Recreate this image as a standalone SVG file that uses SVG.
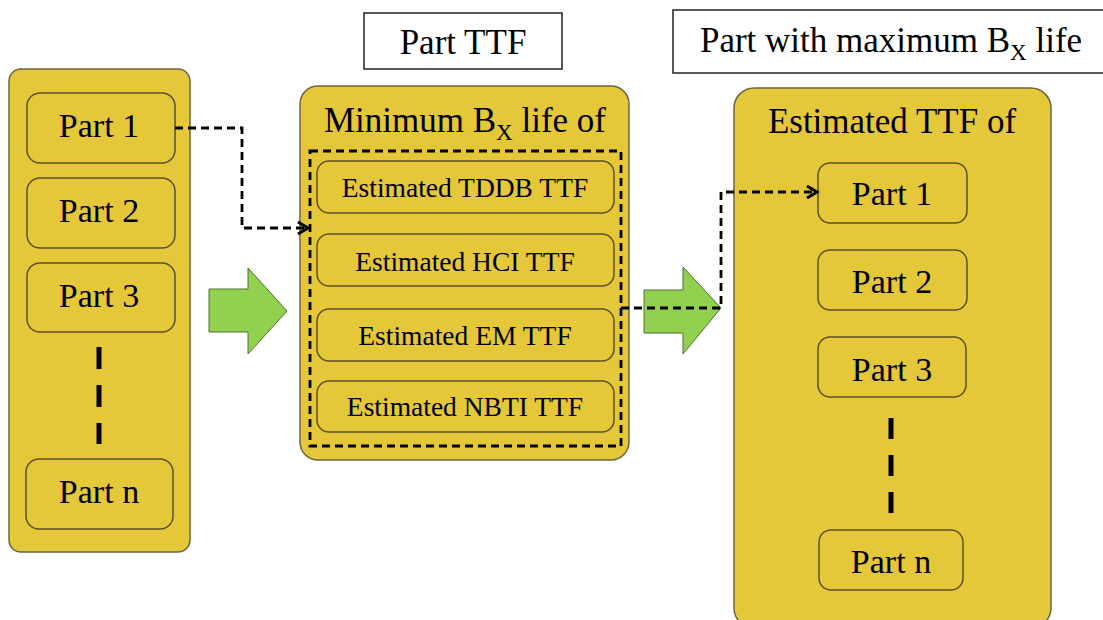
<svg xmlns="http://www.w3.org/2000/svg" width="1103" height="620" viewBox="0 0 1103 620">
  <style>
    text { font-family: 'Liberation Serif', 'DejaVu Serif', serif; fill: #000; text-anchor: middle; }
    .lbl { font-size: 34px; }
    .ttl { font-size: 35px; }
    .sm { font-size: 27.5px; }
    .sub { font-size: 23px; }
    .panel { fill: #E4C83A; stroke: #6E6440; stroke-width: 1.5; }
    .part { fill: #E4C83A; stroke: #5C5126; stroke-width: 1.5; }
    .cap { fill: #FFFFFF; stroke: #222; stroke-width: 1.5; }
    .flow { fill: #92D050; stroke: #4F6F30; stroke-width: 1; }
    .dots { stroke: #000; stroke-width: 5; stroke-dasharray: 22 16; fill: none; }
    .link { stroke: #000; stroke-width: 2.8; stroke-dasharray: 8 5; fill: none; }
  </style>
  <defs>
    <marker id="chev" markerUnits="userSpaceOnUse" markerWidth="16" markerHeight="16" refX="12" refY="8" orient="auto">
      <path d="M2,2 L12,8 L2,14" fill="none" stroke="#000" stroke-width="3"/>
    </marker>
  </defs>

  <!-- caption boxes -->
  <g id="caption-part-ttf">
    <rect class="cap" x="364" y="13" width="198" height="56"/>
    <text class="ttl" x="463" y="54" font-family="Liberation Serif">Part TTF</text>
  </g>
  <g id="caption-max-life">
    <rect class="cap" x="673" y="10" width="440" height="63"/>
    <text class="ttl" x="891" y="52">Part with maximum B<tspan class="sub" dy="8">X</tspan><tspan dy="-8"> life</tspan></text>
  </g>

  <!-- left column: list of parts -->
  <g id="parts-list">
    <rect class="panel" x="9" y="69" width="181" height="483" rx="12"/>
    <g id="part-1">
      <rect class="part" x="27" y="93" width="148" height="70" rx="13"/>
      <text class="lbl" x="99" y="137">Part 1</text>
    </g>
    <g id="part-2">
      <rect class="part" x="27" y="178" width="148" height="70" rx="13"/>
      <text class="lbl" x="99" y="222">Part 2</text>
    </g>
    <g id="part-3">
      <rect class="part" x="27" y="263" width="148" height="69" rx="13"/>
      <text class="lbl" x="99" y="307">Part 3</text>
    </g>
    <line class="dots" x1="99" y1="347" x2="99" y2="444"/>
    <g id="part-n">
      <rect class="part" x="26" y="459" width="147" height="70" rx="13"/>
      <text class="lbl" x="99" y="503">Part n</text>
    </g>
  </g>

  <!-- middle column: failure mechanisms -->
  <g id="min-life">
    <rect class="panel" x="300" y="86" width="329" height="374" rx="18"/>
    <text class="ttl" x="465" y="132">Minimum B<tspan class="sub" dy="8">X</tspan><tspan dy="-8"> life of</tspan></text>
    <rect x="310" y="151" width="311" height="295" fill="none" stroke="#000" stroke-width="2.8" stroke-dasharray="8 5"/>
    <g id="tddb">
      <rect class="part" x="317" y="161" width="297" height="52" rx="12"/>
      <text class="sm" x="465" y="197">Estimated TDDB TTF</text>
    </g>
    <g id="hci">
      <rect class="part" x="317" y="234" width="297" height="52" rx="12"/>
      <text class="sm" x="465" y="271">Estimated HCI TTF</text>
    </g>
    <g id="em">
      <rect class="part" x="317" y="309" width="297" height="52" rx="12"/>
      <text class="sm" x="465" y="345">Estimated EM TTF</text>
    </g>
    <g id="nbti">
      <rect class="part" x="317" y="381" width="297" height="51" rx="12"/>
      <text class="sm" x="465" y="416">Estimated NBTI TTF</text>
    </g>
  </g>

  <!-- right column: estimated TTF per part -->
  <g id="estimated-ttf">
    <rect class="panel" x="734" y="88" width="317" height="540" rx="20"/>
    <text class="ttl" x="892" y="133">Estimated TTF of</text>
    <g id="est-part-1">
      <rect class="part" x="818" y="163" width="149" height="60" rx="12"/>
      <text class="lbl" x="892" y="205">Part 1</text>
    </g>
    <g id="est-part-2">
      <rect class="part" x="818" y="250" width="149" height="60" rx="12"/>
      <text class="lbl" x="892" y="293">Part 2</text>
    </g>
    <g id="est-part-3">
      <rect class="part" x="818" y="337" width="148" height="60" rx="12"/>
      <text class="lbl" x="892" y="381">Part 3</text>
    </g>
    <line class="dots" x1="891" y1="418" x2="891" y2="514" style="stroke-dasharray:21 16"/>
    <g id="est-part-n">
      <rect class="part" x="819" y="530" width="144" height="60" rx="12"/>
      <text class="lbl" x="891" y="573">Part n</text>
    </g>
  </g>

  <!-- block arrows -->
  <g id="flow-arrows">
    <polygon class="flow" points="209,289 248,289 248,268 287,311 248,354 248,332 209,332"/>
    <polygon class="flow" points="644,290 683,290 683,267 721,308 683,354 683,333 644,333"/>
  </g>

  <!-- dashed connectors -->
  <g id="connectors">
    <path class="link" d="M175,128 H242 V228 H308" marker-end="url(#chev)"/>
    <path class="link" d="M621,308 H721 V192 H817" marker-end="url(#chev)"/>
  </g>
</svg>
